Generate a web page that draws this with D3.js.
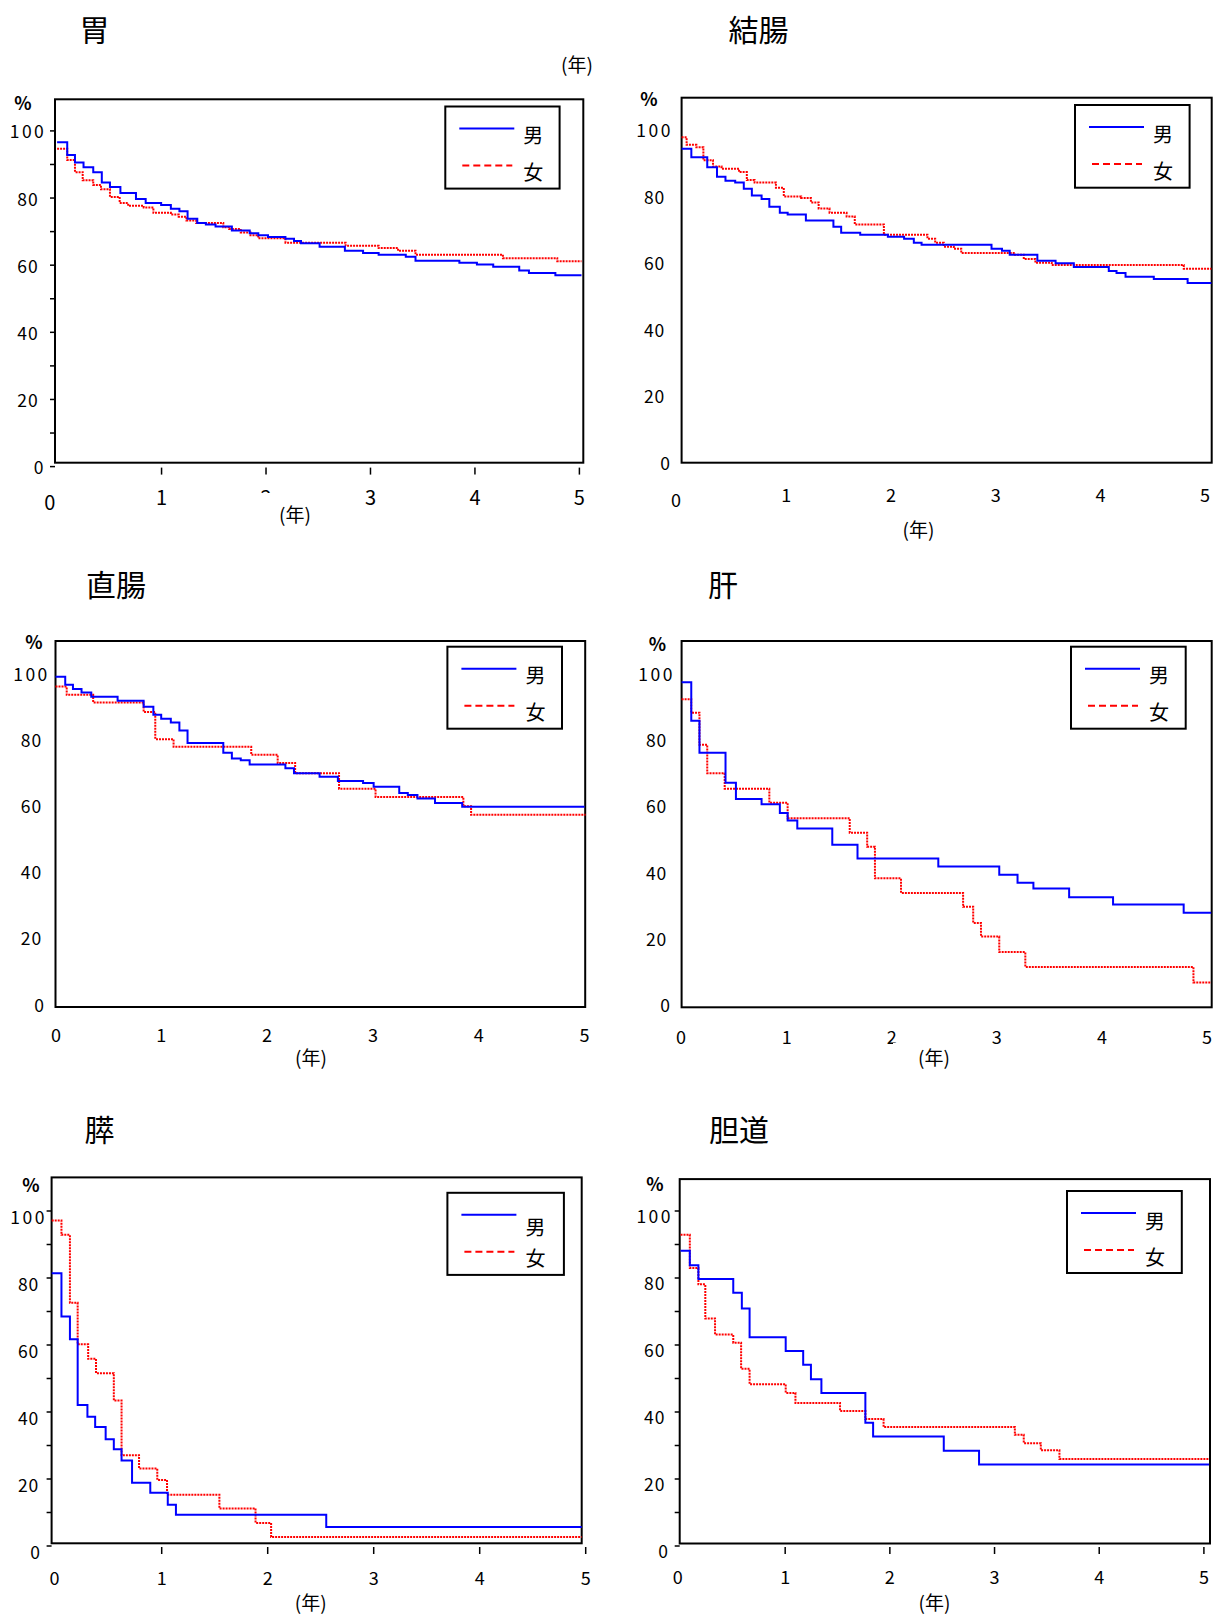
<!DOCTYPE html>
<html><head><meta charset="utf-8">
<script src="https://cdn.jsdelivr.net/npm/d3@7"></script>
<style>body{margin:0;background:#fff}svg{display:block}</style>
</head><body>
<svg id="c" width="1218" height="1616"></svg>
<script>
// ---- text ----
const titles = ["胃", "結腸", "直腸", "肝", "膵", "胆道"];
const legendLabels = ["男", "女"];
const xTickValues = [0, 1, 2, 3, 4, 5];
const yTickValues = [0, 20, 40, 60, 80, 100];
const yMinorTickValues = [0, 10, 20, 30, 40, 50, 60, 70, 80, 90, 100];
const unitLabel = "(年)";
const percentLabel = "%";

// ---- data: time (years) and survival (%) ----
// 胃
const stomachMaleT = [0, 0.097, 0.171, 0.253, 0.346, 0.428, 0.506, 0.606, 0.755, 0.848, 0.996, 1.089, 1.171, 1.249, 1.342, 1.424, 1.517, 1.673, 1.844, 1.926, 2.019, 2.186, 2.268, 2.335, 2.513, 2.755, 2.929, 3.078, 3.338, 3.431, 3.851, 4.019, 4.175, 4.424, 4.517, 4.770, 5.02];
const stomachMaleS = [96.6, 92.8, 90.6, 89.2, 87.7, 84.6, 83.3, 81.5, 79.7, 78.5, 77.9, 76.8, 76.1, 73.8, 72.6, 72.1, 71.5, 70.3, 69.5, 68.9, 68.4, 67.9, 67.2, 66.5, 65.5, 64.3, 63.6, 63.1, 62.5, 61.3, 60.7, 60.2, 59.5, 58.4, 57.7, 57.0, 57.0];
const stomachFemaleT = [0, 0.097, 0.171, 0.245, 0.346, 0.420, 0.506, 0.599, 0.680, 0.829, 0.922, 1.089, 1.164, 1.238, 1.331, 1.591, 1.647, 1.758, 1.851, 1.926, 2.186, 2.762, 3.078, 3.264, 3.431, 4.268, 4.788, 5.02];
const stomachFemaleS = [94.7, 91.3, 87.7, 85.3, 83.9, 82.6, 80.3, 78.5, 77.7, 77.2, 75.6, 75.1, 74.4, 73.3, 72.6, 71.3, 70.8, 69.7, 68.9, 68.0, 66.7, 65.8, 65.1, 64.3, 63.1, 62.1, 61.2, 61.2];
// 結腸
const colonMaleT = [0, 0.093, 0.245, 0.338, 0.419, 0.512, 0.594, 0.671, 0.764, 0.838, 0.938, 1.013, 1.187, 1.450, 1.524, 1.706, 1.970, 2.125, 2.218, 2.292, 2.960, 3.060, 3.134, 3.398, 3.572, 3.746, 4.080, 4.154, 4.240, 4.510, 4.833, 5.06];
const colonMaleS = [94.2, 91.7, 88.7, 85.8, 84.6, 84.1, 82.2, 80.2, 79.1, 76.8, 75.0, 74.5, 72.7, 70.8, 69.0, 68.4, 67.8, 67.2, 66.0, 65.4, 64.2, 63.6, 62.4, 60.6, 59.8, 58.7, 57.5, 56.9, 55.8, 55.1, 53.9, 53.9];
const colonFemaleT = [0, 0.048, 0.141, 0.208, 0.300, 0.382, 0.549, 0.623, 0.697, 0.901, 0.976, 1.142, 1.235, 1.309, 1.413, 1.576, 1.654, 1.932, 2.348, 2.422, 2.504, 2.600, 2.671, 3.183, 3.268, 3.379, 3.535, 4.796, 5.06];
const colonFemaleS = [97.7, 95.4, 94.7, 90.8, 88.9, 88.2, 87.2, 84.8, 84.1, 82.5, 79.9, 79.4, 78.1, 76.3, 75.0, 73.9, 71.5, 68.4, 67.2, 66.0, 64.8, 64.2, 62.9, 62.4, 61.1, 60.0, 59.3, 58.2, 58.2];
// 直腸
const rectumMaleT = [0, 0.092, 0.165, 0.246, 0.338, 0.587, 0.833, 0.925, 0.999, 1.090, 1.171, 1.248, 1.586, 1.667, 1.751, 1.835, 2.173, 2.254, 2.496, 2.669, 2.907, 3.007, 3.249, 3.330, 3.421, 3.587, 3.844, 5.0];
const rectumMaleS = [100, 97.6, 96.3, 95.2, 93.9, 92.7, 90.9, 88.5, 87.3, 86.1, 83.7, 79.9, 77.0, 75.2, 74.7, 73.4, 72.3, 70.8, 69.7, 68.4, 67.8, 66.7, 64.8, 64.2, 63.1, 61.8, 60.6, 60.6];
const rectumFemaleT = [0, 0.106, 0.356, 0.833, 0.943, 1.116, 1.850, 2.100, 2.265, 2.680, 3.025, 3.855, 3.928, 5.01];
const rectumFemaleS = [97.0, 94.5, 92.2, 89.3, 81.1, 78.8, 76.4, 73.9, 70.8, 66.1, 63.6, 60.8, 58.2, 58.2];
// 肝
const liverMaleT = [0, 0.092, 0.170, 0.418, 0.517, 0.761, 0.935, 1.009, 1.101, 1.434, 1.674, 2.443, 3.023, 3.197, 3.348, 3.688, 4.106, 4.778, 5.04];
const liverMaleS = [98.3, 86.7, 77.0, 67.9, 63.0, 61.4, 58.8, 56.5, 54.1, 49.2, 45.0, 42.6, 40.1, 37.7, 35.9, 33.3, 31.1, 28.6, 28.6];
const liverFemaleT = [0, 0.092, 0.170, 0.244, 0.410, 0.835, 1.009, 1.600, 1.766, 1.840, 2.088, 2.679, 2.775, 2.849, 3.023, 3.271, 4.871, 5.04];
const liverFemaleS = [93.2, 89.1, 79.4, 70.8, 66.1, 61.9, 57.2, 52.8, 48.6, 39.0, 34.6, 30.4, 25.5, 21.4, 16.7, 12.2, 7.5, 7.5];
// 膵
const pancreasMaleT = [0, 0.092, 0.172, 0.245, 0.337, 0.410, 0.509, 0.586, 0.659, 0.758, 0.930, 1.095, 1.172, 2.590, 5.0];
const pancreasMaleS = [81.4, 68.5, 61.7, 42.1, 38.6, 35.5, 31.9, 28.9, 25.5, 18.9, 15.9, 12.3, 9.3, 5.7, 5.7];
const pancreasFemaleT = [0, 0.092, 0.172, 0.245, 0.344, 0.418, 0.586, 0.659, 0.824, 0.996, 1.088, 1.582, 1.923, 2.070, 5.0];
const pancreasFemaleS = [97.2, 92.9, 72.6, 60.2, 55.9, 51.6, 43.4, 27.1, 23.1, 19.7, 15.3, 11.2, 6.9, 2.7, 2.7];
// 胆道
const biliaryMaleT = [0, 0.089, 0.171, 0.504, 0.586, 0.660, 1.005, 1.172, 1.246, 1.346, 1.766, 1.840, 2.515, 2.852, 5.05];
const biliaryMaleS = [88.1, 83.8, 79.7, 75.6, 70.9, 62.3, 58.2, 54.1, 49.8, 45.7, 36.8, 32.7, 28.4, 24.3, 24.3];
const biliaryFemaleT = [0, 0.089, 0.171, 0.237, 0.330, 0.504, 0.579, 0.660, 1.005, 1.098, 1.524, 1.766, 1.940, 3.194, 3.279, 3.442, 3.620, 5.05];
const biliaryFemaleS = [92.9, 83.0, 78.1, 67.9, 63.1, 60.7, 52.9, 48.3, 45.7, 42.7, 40.3, 37.9, 35.5, 33.2, 30.7, 28.6, 26.0, 26.0];

// ---- layout (pixel placement per panel) ----
const layout = [
  {frame:[55,99.3,583.3,462.7], xr:[57.1,579.4], yr:[466.6,130.9], ticks:true, tickShift:0,
   title:[94.5,27.5], pct:[23,101.7], yLabDx:-27, yLabDy:0, xLabY:496.7, xLabSize:20, x0Lab:[49.7,501],
   unit:[295,513], mask:[255,493,81,33], legend:[445.3,106.5,114.3,82.1], maleDy:0, topUnit:[577,63.7]},
  {frame:[681.6,97.7,1211.7,462.7], xr:[681.6,1205.1], yr:[462.5,129.5], ticks:false, tickShift:0,
   title:[758.5,28], pct:[649,98.1], yLabDx:-27, yLabDy:0, xLabY:494, xLabSize:18, x0Lab:[676,499],
   unit:[918.5,528.6], mask:null, legend:[1075,105,114.6,82.7], maleDy:0},
  {frame:[55.5,641,585.2,1007], xr:[55.5,584.5], yr:[1007,676.7], ticks:false, tickShift:0,
   title:[116,583], pct:[34,641], yLabDx:-24, yLabDy:-3, xLabY:1034, xLabSize:18, x0Lab:[56,1034],
   unit:[311,1056.5], mask:null, legend:[447.4,646.7,114.6,82], maleDy:0},
  {frame:[681.6,641,1211.7,1007.3], xr:[681.6,1207], yr:[1007.3,676.7], ticks:false, tickShift:0,
   title:[723,583], pct:[657.5,642.6], yLabDx:-25, yLabDy:-3, xLabY:1036, xLabSize:18, x0Lab:[681,1036],
   unit:[934,1056.5], mask:[893,1043,82,29], legend:[1071,646.7,114.7,82], maleDy:0},
  {frame:[51.6,1177.4,581.7,1543.3], xr:[51.7,581.7], yr:[1546,1211], ticks:true, tickShift:4,
   title:[99.6,1128], pct:[31,1184], yLabDx:-23, yLabDy:5, xLabY:1577, xLabSize:18, x0Lab:[54.4,1577],
   unit:[310.7,1601], mask:null, legend:[447.4,1192.8,116.5,82.1], maleDy:6},
  {frame:[679.7,1179.1,1210,1543.5], xr:[680.5,1203.9], yr:[1546,1211], ticks:true, tickShift:0,
   title:[739,1128], pct:[655,1182.6], yLabDx:-25, yLabDy:4, xLabY:1576, xLabSize:18, x0Lab:[677.7,1576],
   unit:[934.4,1601], mask:null, legend:[1067,1191,114.8,82], maleDy:1}
];

const series = [
  [stomachMaleT, stomachMaleS, stomachFemaleT, stomachFemaleS],
  [colonMaleT, colonMaleS, colonFemaleT, colonFemaleS],
  [rectumMaleT, rectumMaleS, rectumFemaleT, rectumFemaleS],
  [liverMaleT, liverMaleS, liverFemaleT, liverFemaleS],
  [pancreasMaleT, pancreasMaleS, pancreasFemaleT, pancreasFemaleS],
  [biliaryMaleT, biliaryMaleS, biliaryFemaleT, biliaryFemaleS]
];

const CJK = "'Noto Sans CJK JP', 'Noto Sans', sans-serif";
const BLUE = "#0000ff", RED = "#ff0000";
const svg = d3.select("#c");
svg.append("rect").attr("width",1218).attr("height",1616).attr("fill","#fff");

function txt(g, x, y, s, size, opts={}) {
  return g.append("text")
    .attr("x", x).attr("y", y)
    .attr("text-anchor", opts.anchor || "middle")
    .attr("dominant-baseline", "central")
    .attr("font-family", CJK)
    .attr("font-size", size)
    .attr("font-weight", opts.weight || "normal")
    .attr("letter-spacing", opts.ls || 0)
    .attr("fill", "#000")
    .text(s);
}

series.forEach((sr, i) => {
  const L = layout[i];
  const g = svg.append("g");
  const x = d3.scaleLinear().domain([0, 5]).range(L.xr);
  const y = d3.scaleLinear().domain([0, 100]).range(L.yr);
  const [fl, ft, fr, fb] = L.frame;

  // title
  txt(g, L.title[0], L.title[1], titles[i], 30);
  if (L.topUnit) txt(g, L.topUnit[0], L.topUnit[1], unitLabel, 19);

  // frame
  g.append("rect").attr("x", fl).attr("y", ft).attr("width", fr - fl).attr("height", fb - ft)
    .attr("fill", "none").attr("stroke", "#000").attr("stroke-width", 2);

  // tick marks
  if (L.ticks) {
    g.selectAll(".yt").data(yMinorTickValues).join("line")
      .attr("x1", fl - 5).attr("x2", fl).attr("y1", d => y(d)).attr("y2", d => y(d))
      .attr("stroke", "#000").attr("stroke-width", 1.5);
    g.selectAll(".xt").data(xTickValues.slice(1)).join("line")
      .attr("x1", d => x(d) + L.tickShift).attr("x2", d => x(d) + L.tickShift)
      .attr("y1", L.yr[0] + 1).attr("y2", L.yr[0] + 8)
      .attr("stroke", "#000").attr("stroke-width", 1.5);
  }

  // % label
  txt(g, L.pct[0], L.pct[1], percentLabel, 18, {weight: "bold"});

  // y labels
  yTickValues.forEach(v => {
    const lx = v === 0 ? fl - 16 : fl + L.yLabDx;
    txt(g, lx, y(v) + L.yLabDy, String(v), 17.5, {ls: v === 100 ? 2.5 : 1});
  });

  // x labels
  xTickValues.forEach(v => {
    if (v === 0) txt(g, L.x0Lab[0], L.x0Lab[1], "0", L.xLabSize);
    else txt(g, x(v) + L.tickShift, L.xLabY, String(v), L.xLabSize);
  });

  // unit label (with white box that hides part of the neighbouring tick label)
  if (L.mask) g.append("rect").attr("x", L.mask[0]).attr("y", L.mask[1])
    .attr("width", L.mask[2]).attr("height", L.mask[3]).attr("fill", "#fff");
  txt(g, L.unit[0], L.unit[1], unitLabel, 19);

  // curves
  const line = d3.line().x(d => x(d[0])).y(d => y(d[1])).curve(d3.curveStepAfter);
  g.append("path").datum(d3.zip(sr[2], sr[3])).attr("d", line)
    .attr("fill", "none").attr("stroke", RED).attr("stroke-width", 2).attr("stroke-dasharray", "2,1");
  g.append("path").datum(d3.zip(sr[0], sr[1])).attr("d", line)
    .attr("fill", "none").attr("stroke", BLUE).attr("stroke-width", 2);

  // legend
  const [lx, ly, lw, lh] = L.legend;
  g.append("rect").attr("x", lx).attr("y", ly).attr("width", lw).attr("height", lh)
    .attr("fill", "#fff").attr("stroke", "#000").attr("stroke-width", 2);
  g.append("line").attr("x1", lx + 14).attr("x2", lx + 69).attr("y1", ly + 22).attr("y2", ly + 22)
    .attr("stroke", BLUE).attr("stroke-width", 2);
  g.append("line").attr("x1", lx + 17).attr("x2", lx + 67).attr("y1", ly + 59).attr("y2", ly + 59)
    .attr("stroke", RED).attr("stroke-width", 2).attr("stroke-dasharray", "7,4");
  txt(g, lx + 88, ly + 28 + L.maleDy, legendLabels[0], 20);
  txt(g, lx + 88, ly + 65, legendLabels[1], 20);
});
</script>
</body></html>
